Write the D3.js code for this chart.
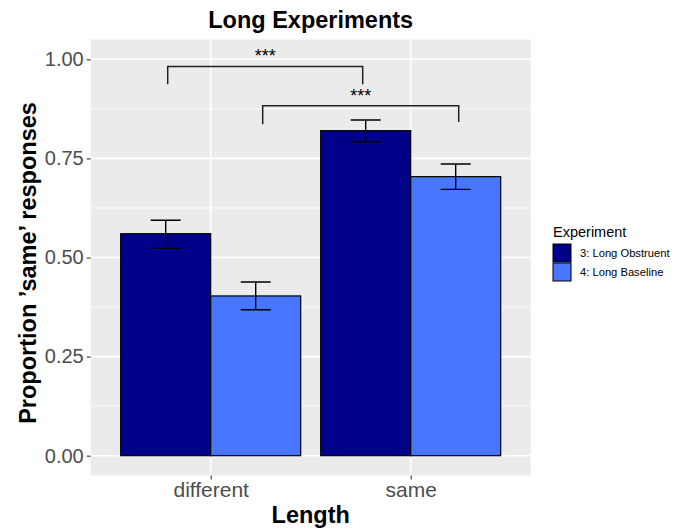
<!DOCTYPE html>
<html>
<head>
<meta charset="utf-8">
<script src="https://cdn.jsdelivr.net/npm/d3@7.9.0/dist/d3.min.js"></script>
<style>
  body { margin: 0; background: #fff; }
  text { font-family: "Liberation Sans", Arial, Helvetica, sans-serif; }
</style>
</head>
<body>
<svg id="chart" width="680" height="529"></svg>
<script>
const lengths = ["different", "same"];
const experiments = ["3: Long Obstruent", "4: Long Baseline"];
const colors = ["#00008B", "#4876FF"];

// proportion 'same' per length, one array per experiment
const obstruentMean = [0.56, 0.82];
const obstruentLow = [0.523, 0.792];
const obstruentHigh = [0.594, 0.847];
const baselineMean = [0.403, 0.704];
const baselineLow = [0.368, 0.672];
const baselineHigh = [0.438, 0.736];

const yTicks = [0, 0.25, 0.5, 0.75, 1];
const yMinor = [0.125, 0.375, 0.625, 0.875];

// significance brackets (x in category units, different = 1, same = 2)
const brackets = [
  { x1: 0.785, x2: 1.76, y: 0.982, tip1: 0.937, tip2: 0.937, label: "***" },
  { x1: 1.26, x2: 2.24, y: 0.883, tip1: 0.836, tip2: 0.842, label: "***" }
];

const series = [
  { name: experiments[0], mean: obstruentMean, low: obstruentLow, high: obstruentHigh, color: colors[0], offset: -0.225 },
  { name: experiments[1], mean: baselineMean, low: baselineLow, high: baselineHigh, color: colors[1], offset: 0.225 }
];

const panel = { left: 90.7, right: 530.7, top: 39.5, bottom: 475.5 };

const svg = d3.select("#chart");

const x = d3.scaleLinear().domain([0.4, 2.6]).range([panel.left, panel.right]);
const y = d3.scaleLinear().domain([-0.05, 1.05]).range([panel.bottom, panel.top]);

// panel background
svg.append("rect")
  .attr("x", panel.left)
  .attr("y", panel.top)
  .attr("width", panel.right - panel.left)
  .attr("height", panel.bottom - panel.top)
  .attr("fill", "#EBEBEB");

// grid
svg.selectAll(".minor")
  .data(yMinor)
  .enter()
  .append("line")
  .attr("x1", panel.left)
  .attr("x2", panel.right)
  .attr("y1", (d) => y(d))
  .attr("y2", (d) => y(d))
  .attr("stroke", "#fff")
  .attr("stroke-width", 0.8);

svg.selectAll(".major-y")
  .data(yTicks)
  .enter()
  .append("line")
  .attr("x1", panel.left)
  .attr("x2", panel.right)
  .attr("y1", (d) => y(d))
  .attr("y2", (d) => y(d))
  .attr("stroke", "#fff")
  .attr("stroke-width", 1.6);

svg.selectAll(".major-x")
  .data(lengths)
  .enter()
  .append("line")
  .attr("x1", (d, i) => x(i + 1))
  .attr("x2", (d, i) => x(i + 1))
  .attr("y1", panel.top)
  .attr("y2", panel.bottom)
  .attr("stroke", "#fff")
  .attr("stroke-width", 1.6);

// bars
series.forEach((s) => {
  svg.selectAll(null)
    .data(lengths)
    .enter()
    .append("rect")
    .attr("x", (d, i) => x(i + 1 + s.offset - 0.225))
    .attr("y", (d, i) => y(s.mean[i]))
    .attr("width", x(0.45) - x(0))
    .attr("height", (d, i) => y(0) - y(s.mean[i]))
    .attr("fill", s.color)
    .attr("stroke", "#000")
    .attr("stroke-width", 1.2);
});

// error bars
series.forEach((s) => {
  svg.selectAll(null)
    .data(lengths)
    .enter()
    .append("path")
    .attr("stroke", "#000")
    .attr("stroke-width", 1.4)
    .attr("fill", "none")
    .attr("d", (d, i) => {
      const cx = i + 1 + s.offset;
      const a = x(cx - 0.075), b = x(cx + 0.075), c = x(cx);
      const t = y(s.high[i]), lo = y(s.low[i]);
      return `M${a},${t}H${b}M${c},${t}V${lo}M${a},${lo}H${b}`;
    });
});

// brackets
const br = svg.selectAll(".bracket")
  .data(brackets)
  .enter()
  .append("g")
  .attr("class", "bracket");

br.append("path")
  .attr("d", (d) => `M${x(d.x1)},${y(d.tip1)}V${y(d.y)}H${x(d.x2)}V${y(d.tip2)}`)
  .attr("fill", "none")
  .attr("stroke", "#222")
  .attr("stroke-width", 1.5);

br.append("text")
  .attr("x", (d) => x((d.x1 + d.x2) / 2))
  .attr("y", (d) => y(d.y) - 4)
  .attr("text-anchor", "middle")
  .style("font-size", "18px")
  .text((d) => d.label);

// y axis
const yAxis = svg.append("g")
  .attr("transform", `translate(${panel.left},0)`)
  .call(d3.axisLeft(y).tickValues(yTicks).tickFormat(d3.format(".2f")).tickSize(4).tickPadding(3));
yAxis.select(".domain").remove();
yAxis.selectAll(".tick line").attr("stroke", "#333").attr("stroke-width", 1.1);
yAxis.selectAll(".tick text")
  .attr("fill", "#4D4D4D")
  .style("font-size", "20px")
  .attr("font-family", "Liberation Sans, Arial, sans-serif");

// x axis
const xAxis = svg.append("g")
  .attr("transform", `translate(0,${panel.bottom})`)
  .call(d3.axisBottom(x).tickValues([1, 2]).tickFormat((d) => lengths[d - 1]).tickSize(4).tickPadding(3));
xAxis.select(".domain").remove();
xAxis.selectAll(".tick line").attr("stroke", "#333").attr("stroke-width", 1.1);
xAxis.selectAll(".tick text")
  .attr("fill", "#4D4D4D")
  .style("font-size", "21px")
  .attr("font-family", "Liberation Sans, Arial, sans-serif");

// titles
svg.append("text")
  .attr("x", (panel.left + panel.right) / 2)
  .attr("y", 28)
  .attr("text-anchor", "middle")
  .style("font-size", "23.5px")
  .style("font-weight", "bold")
  .text("Long Experiments");

svg.append("text")
  .attr("x", (panel.left + panel.right) / 2)
  .attr("y", 523)
  .attr("text-anchor", "middle")
  .style("font-size", "23.5px")
  .style("font-weight", "bold")
  .text("Length");

svg.append("text")
  .attr("transform", `translate(36,263) rotate(-90)`)
  .attr("text-anchor", "middle")
  .style("font-size", "23.5px")
  .style("font-weight", "bold")
  .text("Proportion \u2019same\u2019 responses");

// legend
const legend = svg.append("g").attr("transform", "translate(553,226)");

legend.append("text")
  .attr("x", 0)
  .attr("y", 11)
  .style("font-size", "14.5px")
  .text("Experiment");

const item = legend.selectAll(".item")
  .data(experiments)
  .enter()
  .append("g")
  .attr("transform", (d, i) => `translate(0,${18 + i * 19})`);

item.append("rect")
  .attr("width", 18)
  .attr("height", 18)
  .attr("fill", (d, i) => colors[i])
  .attr("stroke", "#000")
  .attr("stroke-width", 1);

item.append("text")
  .attr("x", 27)
  .attr("y", 9)
  .attr("dy", "0.35em")
  .style("font-size", "11.2px")
  .text((d) => d);
</script>
</body>
</html>
